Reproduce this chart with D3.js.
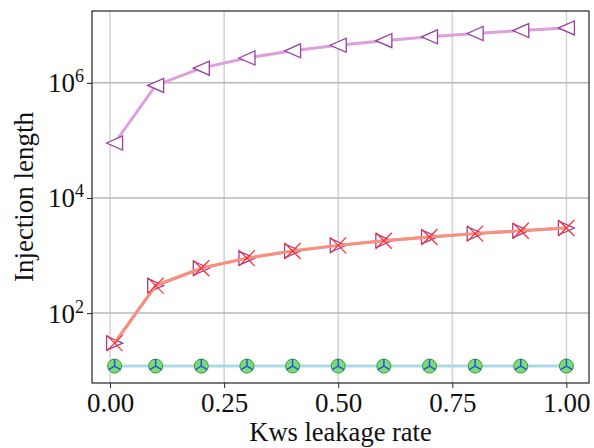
<!DOCTYPE html>
<html>
<head>
<meta charset="utf-8">
<script src="https://cdn.jsdelivr.net/npm/d3@7"></script>
<style>
  body { margin: 0; background: #fff; }
  text { font-family: "Liberation Serif", "Times New Roman", serif; fill: #111; }
</style>
</head>
<body>
<div class="chart"></div>
<script>
// values
const rates = [0.01, 0.1, 0.2, 0.3, 0.4, 0.5, 0.6, 0.7, 0.8, 0.9, 1.0];
const leftTriVals = [90000, 900000, 1800000, 2700000, 3600000, 4500000, 5400000, 6300000, 7200000, 8100000, 9000000];
const rightTriVals = [30, 300, 600, 900, 1200, 1500, 1800, 2100, 2400, 2700, 3000];
const crossVals = [30, 300, 600, 900, 1200, 1500, 1800, 2100, 2400, 2700, 3000];
const circleVals = [12, 12, 12, 12, 12, 12, 12, 12, 12, 12, 12];
const xTicks = [0, 0.25, 0.5, 0.75, 1.0];
const yTicks = [1e2, 1e4, 1e6];

const W = 594, H = 448;
const margin = {top: 11, left: 92, bottom: 65, right: 5};
const width = W - margin.left - margin.right;
const height = H - margin.top - margin.bottom;

const svg = d3.select('.chart')
    .append('svg')
    .attr('width', W)
    .attr('height', H)
    .append('g')
    .attr('transform', 'translate(' + margin.left + ',' + margin.top + ')');

const xScale = d3.scaleLinear()
    .domain([-0.0395, 1.0495])
    .range([0, width]);

const yScale = d3.scaleLog()
    .domain([Math.pow(10, 0.785), Math.pow(10, 7.248)])
    .range([height, 0]);

// grid
svg.append('g').selectAll('line')
    .data(xTicks)
    .join('line')
    .attr('x1', d => xScale(d)).attr('x2', d => xScale(d))
    .attr('y1', 0).attr('y2', height)
    .attr('stroke', '#d2d2d2').attr('stroke-width', 1.5);

svg.append('g').selectAll('line')
    .data(yTicks)
    .join('line')
    .attr('x1', 0).attr('x2', width)
    .attr('y1', d => yScale(d)).attr('y2', d => yScale(d))
    .attr('stroke', '#b8b8b8').attr('stroke-width', 1.5);

// axes
const xAxis = d3.axisBottom(xScale)
    .tickValues(xTicks)
    .tickSize(5)
    .tickPadding(5)
    .tickFormat(d3.format('.2f'));

const yAxis = d3.axisLeft(yScale)
    .tickValues(yTicks)
    .tickSize(5)
    .tickFormat('');

const gx = svg.append('g')
    .attr('transform', `translate(0, ${height})`)
    .call(xAxis);
gx.select('.domain').remove();
gx.selectAll('.tick line').attr('stroke', '#222');
gx.selectAll('.tick text')
    .attr('font-size', 27)
    .attr('font-family', '"Liberation Serif", "Times New Roman", serif')
    .attr('fill', '#111');

const gy = svg.append('g').call(yAxis);
gy.select('.domain').remove();
gy.selectAll('.tick line').attr('stroke', '#222');
gy.selectAll('.tick').each(function(d) {
    const t = d3.select(this).append('text')
        .attr('x', -8)
        .attr('y', 9)
        .attr('text-anchor', 'end')
        .attr('font-size', 27)
        .attr('font-family', '"Liberation Serif", "Times New Roman", serif')
        .attr('fill', '#111');
    t.append('tspan').text('10');
    t.append('tspan')
        .attr('font-size', 18)
        .attr('dy', -10)
        .text(Math.round(Math.log10(d)));
});

// frame
svg.append('rect')
    .attr('width', width).attr('height', height)
    .attr('fill', 'none')
    .attr('stroke', '#222')
    .attr('stroke-width', 1.2);

const line = vals => d3.line()
    .x((d, i) => xScale(rates[i]))
    .y(d => yScale(d))(vals);

const pos = (vals) => rates.map((r, i) => [xScale(r), yScale(vals[i])]);

// left-triangle series
svg.append('path')
    .attr('d', line(leftTriVals))
    .attr('fill', 'none').attr('stroke', '#dda0dd').attr('stroke-width', 3);
svg.append('g').selectAll('path')
    .data(pos(leftTriVals))
    .join('path')
    .attr('transform', d => `translate(${d[0]},${d[1]})`)
    .attr('d', 'M-8,0L8,-7L8,7Z')
    .attr('fill', '#fff')
    .attr('stroke', '#9a3f9e').attr('stroke-width', 1.3);

// right-triangle series (under the crosses)
svg.append('path')
    .attr('d', line(rightTriVals))
    .attr('fill', 'none').attr('stroke', '#dda0dd').attr('stroke-width', 3);
svg.append('g').selectAll('path')
    .data(pos(rightTriVals))
    .join('path')
    .attr('transform', d => `translate(${d[0]},${d[1]})`)
    .attr('d', 'M8,0L-8,-7L-8,7Z')
    .attr('fill', '#fff')
    .attr('stroke', '#9a3f9e').attr('stroke-width', 1.3);

// cross series
svg.append('path')
    .attr('d', line(crossVals))
    .attr('fill', 'none').attr('stroke', '#fa8f7a').attr('stroke-width', 3);
svg.append('g').selectAll('path')
    .data(pos(crossVals))
    .join('path')
    .attr('transform', d => `translate(${d[0]},${d[1]})`)
    .attr('d', 'M-8,-8L8,8M-8,8L8,-8')
    .attr('fill', 'none')
    .attr('stroke', '#ff3030').attr('stroke-width', 1.3);

// circle series
svg.append('path')
    .attr('d', line(circleVals))
    .attr('fill', 'none').attr('stroke', '#add8e6').attr('stroke-width', 3);
const cg = svg.append('g').selectAll('g')
    .data(pos(circleVals))
    .join('g')
    .attr('transform', d => `translate(${d[0]},${d[1]})`);
cg.append('circle')
    .attr('r', 7)
    .attr('fill', '#77dd77')
    .attr('stroke', '#3c9a3c').attr('stroke-width', 1);
cg.append('path')
    .attr('d', 'M0,0L0,-7M0,0L-6,3.5M0,0L6,3.5')
    .attr('fill', 'none')
    .attr('stroke', '#3050e0').attr('stroke-width', 1.5);

// axis titles
svg.append('text')
    .attr('x', width / 2)
    .attr('y', height + 58)
    .attr('text-anchor', 'middle')
    .attr('font-size', 26.5)
    .text('Kws leakage rate');

svg.append('text')
    .attr('transform', `translate(${33 - margin.left}, ${height / 2}) rotate(-90)`)
    .attr('text-anchor', 'middle')
    .attr('font-size', 27)
    .text('Injection length');
</script>
</body>
</html>
